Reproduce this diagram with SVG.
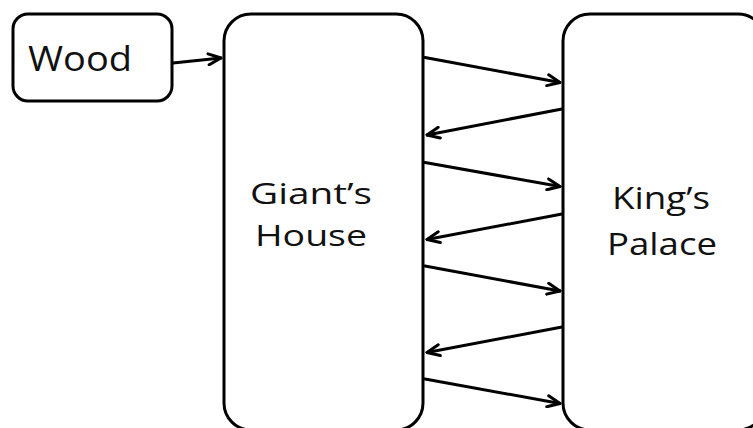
<svg xmlns="http://www.w3.org/2000/svg" width="753" height="428" viewBox="0 0 753 428">
<defs>
<style>
.box{fill:#fff;stroke:#000;stroke-width:3}
.lbl{font-family:"Open Sans","Noto Sans","DejaVu Sans",sans-serif;fill:#111;}
.conn line{stroke:#000;stroke-width:3;stroke-linecap:round;marker-end:url(#ah)}
</style>
<marker id="ah" markerUnits="userSpaceOnUse" viewBox="0 0 16 14" markerWidth="16" markerHeight="14" refX="14.5" refY="7" orient="auto">
<path d="M2,1.5 L14.5,7 L2,12.5" fill="none" stroke="#000" stroke-width="3" stroke-linecap="round" stroke-linejoin="round"/>
</marker>
</defs>
<rect width="753" height="428" fill="#fff"/>
<g id="wood">
<rect class="box" x="13" y="14" width="159" height="87" rx="15"/>
<text class="lbl" x="28" y="71" font-size="34" textLength="104" lengthAdjust="spacingAndGlyphs">Wood</text>
</g>
<g id="giants-house">
<rect class="box" x="224" y="14" width="199" height="416" rx="27"/>
<text class="lbl" x="250" y="204" font-size="30" textLength="122" lengthAdjust="spacingAndGlyphs">Giant’s</text>
<text class="lbl" x="255" y="246" font-size="30" textLength="112" lengthAdjust="spacingAndGlyphs">House</text>
</g>
<g id="kings-palace">
<rect class="box" x="563" y="14" width="202" height="416" rx="27"/>
<text class="lbl" x="612" y="209" font-size="31" textLength="98" lengthAdjust="spacingAndGlyphs">King’s</text>
<text class="lbl" x="607" y="255" font-size="31" textLength="110" lengthAdjust="spacingAndGlyphs">Palace</text>
</g>
<g id="connectors" class="conn">
<line x1="173" y1="63" x2="221" y2="58"/>
<line x1="425" y1="57.5" x2="560" y2="82.5"/>
<line x1="562" y1="109" x2="427" y2="135"/>
<line x1="425" y1="162.5" x2="560" y2="186.5"/>
<line x1="562" y1="214" x2="427" y2="239.5"/>
<line x1="425" y1="266" x2="560" y2="291"/>
<line x1="562" y1="327" x2="427" y2="352.5"/>
<line x1="425" y1="379" x2="560" y2="403.5"/>
</g>
</svg>
